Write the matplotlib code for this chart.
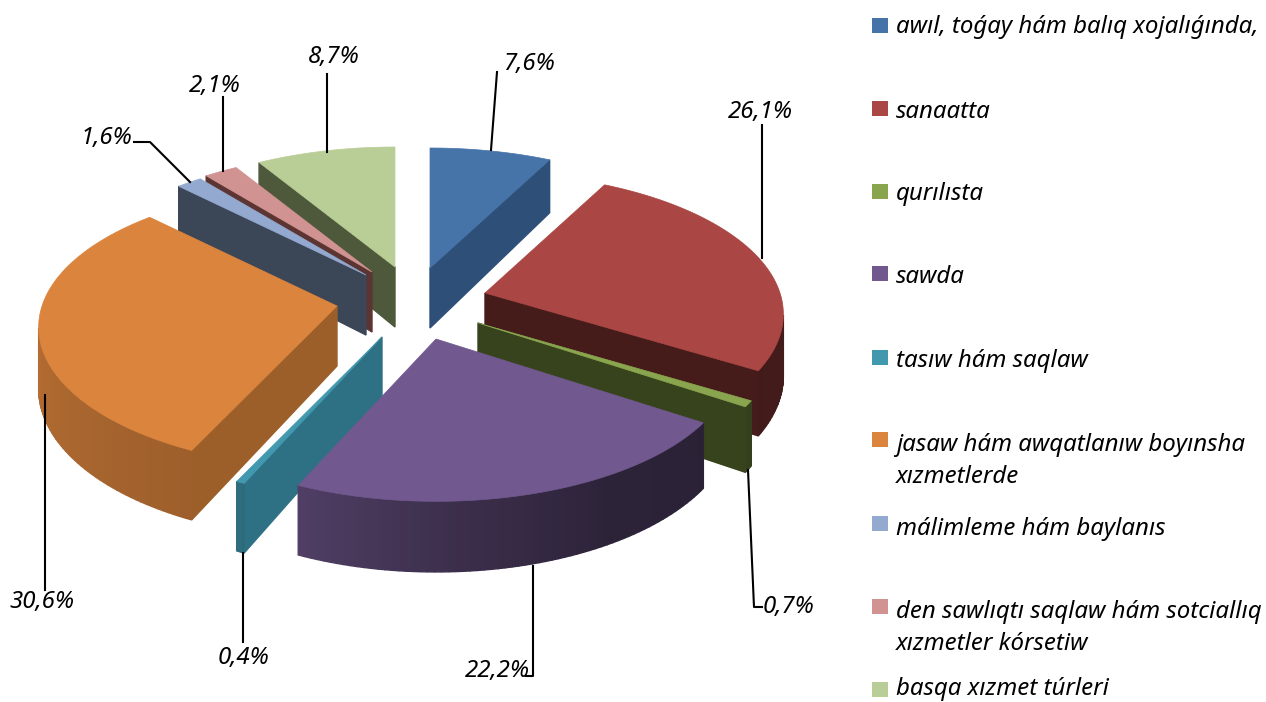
# -*- coding: utf-8 -*-
"""Exploded 3D pie, drawn by hand because matplotlib has no 3D pie"""
import numpy as np
import matplotlib
matplotlib.use('Agg')
import matplotlib.pyplot as plt
from matplotlib.colors import to_rgb
from matplotlib.patches import Polygon, Rectangle

categories = ['awıl, toǵay hám balıq xojalıǵında,', 'sanaatta', 'qurılısta', 'sawda',
              'tasıw hám saqlaw', 'jasaw hám awqatlanıw boyınsha\nxızmetlerde',
              'málimleme hám baylanıs', 'den sawlıqtı saqlaw hám sotciallıq\nxızmetler kórsetiw',
              'basqa xızmet túrleri']
values = [7.6, 26.1, 0.7, 22.2, 0.4, 30.6, 1.6, 2.1, 8.7]
value_labels = ['7,6%', '26,1%', '0,7%', '22,2%', '0,4%', '30,6%', '1,6%', '2,1%', '8,7%']

top_colors = ['#4674A8', '#AA4643', '#89A54E', '#71588F', '#4198AF',
              '#DB843D', '#93A9CF', '#D19392', '#B9CD96']
wall_colors = ['#2E5078', '#451C19', '#36431C', '#4F3D66', '#2F7184',
               '#9C5F2A', '#3B4657', '#5C3533', '#4E583B']

# apex of each exploded slice, in pixels
apex = [(430, 268), (485, 293), (478, 323), (436, 339), (382, 337),
        (337, 306), (366, 275), (372, 272), (395, 267)]
draw_order = [8, 7, 6, 0, 1, 2, 4, 5, 3]

A, B, K, DEPTH = 295, 138, 0.15, 60

# brightness of the round wall against the top colour, by angle
shade_deg = [0, 100, 125, 150, 180, 205, 270, 360]
shade_val = [0.65, 0.40, 0.38, 0.40, 0.55, 0.72, 0.84, 0.84]

# label text position, then leader line
label_pos = [(529, 64), (760, 112), (789, 607), (497, 671), (244, 658),
             (42, 602), (106, 138), (215, 86), (334, 57)]
leaders = [[(497, 72), (491, 150)], [(762, 125), (762, 258)], [(748, 470), (754, 607), (762, 607)],
           [(533, 566), (533, 676), (526, 676)], [(243, 553), (243, 642)], [(45, 395), (45, 590)],
           [(134, 142), (150, 142), (190, 182)], [(223, 97), (223, 171)], [(327, 74), (327, 152)]]

swatch_y = [26, 109, 192, 274, 358, 440, 524, 607, 690]
baseline_y = [33, 118, 200, 283, 367, 451, 535, 618, 695]
second_line_gap = 32


def project(theta, radius, z, center):
    x_u = radius * np.sin(theta)
    y_u = radius * np.cos(theta)
    d = 1 + K * y_u
    return center[0] + A * x_u / d, center[1] + (-B * y_u + z) / d


fig = plt.figure(figsize=(12.66, 7.02), dpi=100)
ax = fig.add_axes([0, 0, 1, 1])
ax.set_xlim(0, 1266)
ax.set_ylim(702, 0)
ax.axis('off')

edges = np.cumsum([0] + values) / sum(values) * 2 * np.pi

for order, i in enumerate(draw_order):
    t0, t1 = edges[i], edges[i + 1]
    n = max(3, int((t1 - t0) / 0.02))
    thetas = np.linspace(t0, t1, n)
    top = [apex[i]] + [project(t, 1, 0, apex[i]) for t in thetas]
    low = [project(0, 0, DEPTH, apex[i])] + [project(t, 1, DEPTH, apex[i]) for t in thetas]
    m = len(top)
    for j in range(m):
        k = (j + 1) % m
        # only the edges that run right to left on screen face the viewer
        if top[k][0] >= top[j][0]:
            continue
        shade = wall_colors[i]
        if 0 < j < m - 1:
            deg = np.degrees(thetas[j - 1])
            shade = np.array(to_rgb(top_colors[i])) * np.interp(deg, shade_deg, shade_val)
        ax.add_patch(Polygon([top[j], top[k], low[k], low[j]], closed=True,
                             facecolor=shade, edgecolor=shade, linewidth=1.0, zorder=2 + order))
    ax.add_patch(Polygon(top, closed=True, facecolor=top_colors[i],
                         edgecolor=top_colors[i], linewidth=0.5, zorder=2 + order))

for pts in leaders:
    xs, ys = zip(*pts)
    ax.plot(xs, ys, color='black', linewidth=1.5, zorder=20)

font = {'family': ['Noto Sans', 'DejaVu Sans'], 'style': 'italic', 'color': 'black', 'fontsize': 17.3}

for (x, y), txt in zip(label_pos, value_labels):
    ax.text(x, y, txt, ha='center', va='center', zorder=21, **font)

for sy, by, name, col in zip(swatch_y, baseline_y, categories, top_colors):
    ax.add_patch(Rectangle((872, sy - 8), 16, 15, facecolor=col, edgecolor='none', zorder=21))
    for n_line, part in enumerate(name.split('\n')):
        ax.text(896, by + n_line * second_line_gap, part, ha='left', va='baseline', zorder=21, **font)

fig.savefig('out.png', dpi=100)
